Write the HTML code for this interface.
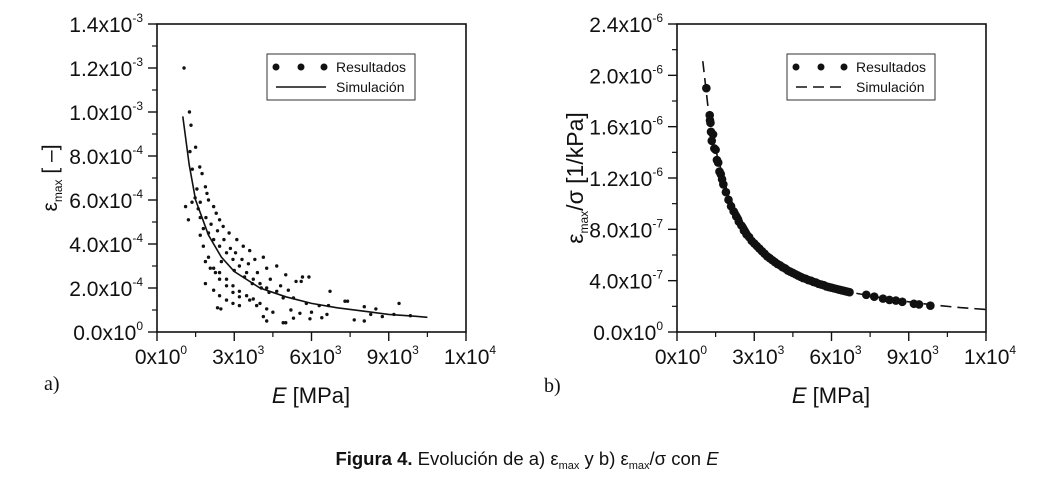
<!DOCTYPE html>
<html><head><meta charset="utf-8"><style>
body{margin:0;background:#fff;width:1050px;height:473px;overflow:hidden;font-family:"Liberation Sans",Arial,sans-serif}
svg text{font-family:"Liberation Sans",Arial,sans-serif;fill:#111}
</style></head><body>
<svg id="fig" width="1050" height="473" viewBox="0 0 1050 473"></svg>
<script>
// ---- Chart a data (E in 10^3 MPa, eps in 10^-4) ----
const aScatterE=[1.05,1.26,1.32,1.5,1.28,1.37,1.66,1.75,1.11,1.22,1.36,1.55,1.68,1.88,1.94,2.0,2.2,2.3,2.43,2.57,2.8,3.1,3.35,3.6,3.8,4.13,4.26,4.65,5.0,5.4,5.65,5.9,
1.48,1.68,1.8,2.0,2.2,2.43,2.7,2.95,3.2,3.48,3.74,4.0,4.26,4.65,4.9,
1.68,1.8,2.0,2.2,2.43,2.7,2.95,3.2,3.48,3.74,4.0,4.26,4.5,
1.88,2.07,2.27,2.43,2.7,2.95,3.2,3.6,3.87,
1.88,2.2,2.43,2.7,2.95,3.2,
2.35,2.48,4.13,4.26,4.9,5.0,5.3,5.55,5.94,6.0,6.4,6.6,6.66,6.72,7.3,7.4,7.66,8.05,8.05,8.3,8.5,8.75,9.2,9.4,9.84,5.3,5.6,5.8,5.2,6.3,
1.6,1.9,2.1,2.35,2.6,2.85,3.05,3.3,3.55,3.9,4.4,4.8,5.1,2.5,3.0,3.4,3.7,4.05,4.35];
const aScatterV=[12.0,10.0,9.4,8.4,8.2,7.4,7.5,7.2,5.7,5.1,5.9,6.5,5.9,6.6,6.3,6.0,5.7,5.4,5.1,4.8,4.5,4.2,3.9,3.7,3.3,3.4,2.9,3.0,2.6,2.3,2.5,2.5,
6.1,5.2,4.7,4.5,4.2,3.9,3.6,3.3,3.0,2.7,2.4,2.2,2.0,1.85,1.55,
4.4,3.9,3.4,2.9,2.7,2.4,2.1,1.85,1.65,1.5,1.3,1.05,0.9,
3.2,2.9,2.7,2.4,2.1,1.8,1.6,1.45,1.2,
2.2,1.9,1.65,1.45,1.3,1.2,
1.1,1.05,0.7,0.5,0.42,0.42,0.63,0.85,0.6,0.9,0.65,0.8,1.2,1.85,1.4,1.4,0.55,0.5,1.15,0.8,1.05,0.7,0.8,1.3,0.74,1.55,2.3,1.3,1.0,1.2,
5.6,5.2,4.9,4.6,4.2,3.8,3.6,3.3,3.1,2.7,2.4,2.1,1.9,3.2,2.8,2.5,2.2,2.0,1.8];
const aCurveE=[1.0,1.25,1.5,2,2.5,3,4,5,6,7,8,9,10,10.5];
const aCurveV=[9.8,7.6,6.0,4.4,3.4,2.75,2.0,1.6,1.3,1.1,0.95,0.8,0.72,0.67];
const aYTicks=["0.0x10|0","2.0x10|-4","4.0x10|-4","6.0x10|-4","8.0x10|-4","1.0x10|-3","1.2x10|-3","1.4x10|-3"];
// ---- Chart b data (E in 10^3 MPa, eps/sigma in 10^-7) ----
const bScatterE=[1.14,1.27,1.28,1.32,1.3,1.4,1.5,1.6,1.7,1.8,1.9,2.0,2.1,2.2,2.3,2.4,2.5,2.6,2.7,2.8,2.9,3.0,3.1,3.2,3.3,3.4,3.5,3.6,3.7,3.8,3.9,4.0,4.1,4.2,4.3,4.4,4.5,4.6,4.7,4.8,4.9,5.0,5.1,5.2,5.3,5.4,5.5,5.6,5.7,5.8,5.9,6.0,6.1,6.2,6.3,6.4,6.5,6.6,6.7,7.35,7.66,8.0,8.25,8.5,8.75,9.2,9.4,9.84,1.35,1.45,1.55,1.65,1.75];
const bScatterV=[19.0,16.9,16.5,15.6,16.3,15.4,14.2,13.2,12.3,11.5,10.9,10.3,9.8,9.4,9.0,8.6,8.3,7.9,7.6,7.4,7.1,6.9,6.7,6.5,6.3,6.1,5.9,5.75,5.6,5.45,5.3,5.2,5.05,4.95,4.8,4.7,4.6,4.5,4.4,4.3,4.2,4.15,4.05,4.0,3.9,3.85,3.75,3.7,3.65,3.55,3.5,3.45,3.4,3.35,3.3,3.25,3.2,3.15,3.1,2.9,2.75,2.6,2.5,2.45,2.35,2.2,2.15,2.05,14.9,14.3,13.4,12.5,11.9];
const bCurveE=[1.0,1.2,1.5,2,3,4,5,6,7,8,9,10,11,12];
const bCurveV=[21.1,17.6,14.2,10.6,7.1,5.3,4.25,3.55,3.0,2.65,2.35,2.1,1.9,1.75];
const bYTicks=["0.0x10|0","4.0x10|-7","8.0x10|-7","1.2x10|-6","1.6x10|-6","2.0x10|-6","2.4x10|-6"];
const xTicks=["0x10|0","3x10|3","6x10|3","9x10|3","1x10|4"];

const NS="http://www.w3.org/2000/svg";
const svg=document.getElementById('fig');
function mk(tag,attrs,parent){const e=document.createElementNS(NS,tag);for(const k in attrs)e.setAttribute(k,attrs[k]);(parent||svg).appendChild(e);return e;}
function sciText(g,x,y,s,anchor){
  const p=s.split('|');
  const t=mk('text',{x:x,y:y,'font-size':21,'text-anchor':anchor},g);
  t.appendChild(document.createTextNode(p[0]));
  const sp=mk('tspan',{'font-size':12,dy:-10},t);sp.textContent=p[1];
  return t;
}
function chart(ox,yMax,xs,ys,cx,cy,yt,dashed,pr,name){
  const L=ox+157,R=ox+466,T=24,B=332;
  const g=mk('g',{});
  
  
  const X=v=>L+v/12*(R-L), Y=v=>B-v/yMax*(B-T);
  mk('rect',{x:L,y:T,width:R-L,height:B-T,fill:'none',stroke:'#111','stroke-width':1.6},g);
  const n=yt.length-1;
  for(let i=0;i<=n;i++){
    const y=T+(B-T)*(n-i)/n;
    const tk=mk('line',{x1:L-9,x2:L,y1:y,y2:y,stroke:'#111','stroke-width':1.4},g);
    
    if(i<n){const ym=y-(B-T)/n/2;mk('line',{x1:L-5,x2:L,y1:ym,y2:ym,stroke:'#111','stroke-width':1.2},g);}
    const lb=sciText(g,L-14,y+8,yt[i],'end');
    
  }
  for(let i=0;i<=4;i++){
    const x=L+(R-L)*i/4;
    mk('line',{x1:x,x2:x,y1:B,y2:B+9,stroke:'#111','stroke-width':1.4},g);
    if(i<4){const xm=x+(R-L)/8;mk('line',{x1:xm,x2:xm,y1:B,y2:B+5,stroke:'#111','stroke-width':1.2},g);}
    const lb=sciText(g,x+4,B+32,xTicks[i],'middle');
    
  }
  let d='';cx.forEach((e,i)=>{d+=(i?'L':'M')+X(e).toFixed(1)+' '+Y(cy[i]).toFixed(1);});
  const c=mk('path',{d:d,fill:'none',stroke:'#111','stroke-width':1.6},g);
  if(dashed)c.setAttribute('stroke-dasharray','11 6');
  
  
  const sg=mk('g',{},g);
  
  
  xs.forEach((e,i)=>{
    const p=mk('circle',{cx:X(e),cy:Y(ys[i]),r:pr,fill:'#111'},sg);
    
    
  });
  const lg=mk('g',{},g);
  
  
  mk('rect',{x:ox+267,y:54,width:148,height:46,fill:'#fff',stroke:'#333','stroke-width':1},lg);
  [276,301,324].forEach(x=>mk('circle',{cx:ox+x,cy:67,r:3.5,fill:'#111'},lg));
  const ln=mk('line',{x1:ox+276,x2:ox+326,y1:87,y2:87,stroke:'#111','stroke-width':1.6},lg);
  if(dashed)ln.setAttribute('stroke-dasharray','11 6');
  mk('text',{x:ox+336,y:72,'font-size':14},lg).textContent='Resultados';
  mk('text',{x:ox+336,y:92,'font-size':14},lg).textContent='Simulación';
  const xt=mk('text',{x:ox+311,y:403,'font-size':22,'text-anchor':'middle'},g);
  
  const it=mk('tspan',{'font-style':'italic'},xt);it.textContent='E';
  xt.appendChild(document.createTextNode(' [MPa]'));
  return g;
}
chart(0,14,aScatterE,aScatterV,aCurveE,aCurveV,aYTicks,false,1.7,'chart-a');
chart(520,24,bScatterE,bScatterV,bCurveE,bCurveV,bYTicks,true,4.3,'chart-b');
let t=mk('text',{transform:'translate(57,178) rotate(-90)','font-size':21,'text-anchor':'middle'});

t.innerHTML='ε<tspan font-size="12" dy="5">max</tspan><tspan dy="-5"> [ –]</tspan>';
t=mk('text',{transform:'translate(583,178) rotate(-90)','font-size':23,'text-anchor':'middle'});

t.innerHTML='ε<tspan font-size="12" dy="5">max</tspan><tspan dy="-5">/σ [1/kPa]</tspan>';
t=mk('text',{x:44,y:390,'font-size':20});
t.style.fontFamily='"Liberation Serif",serif';t.textContent='a)';
t=mk('text',{x:544,y:392,'font-size':20});
t.style.fontFamily='"Liberation Serif",serif';t.textContent='b)';
t=mk('text',{x:527,y:465,'font-size':18.5,'text-anchor':'middle'});

t.innerHTML='<tspan font-weight="bold">Figura 4.</tspan> Evolución de a) ε<tspan font-size="11" dy="4">max</tspan><tspan dy="-4"> y b) ε</tspan><tspan font-size="11" dy="4">max</tspan><tspan dy="-4">/σ con </tspan><tspan font-style="italic">E</tspan>';
</script>
</body></html>
